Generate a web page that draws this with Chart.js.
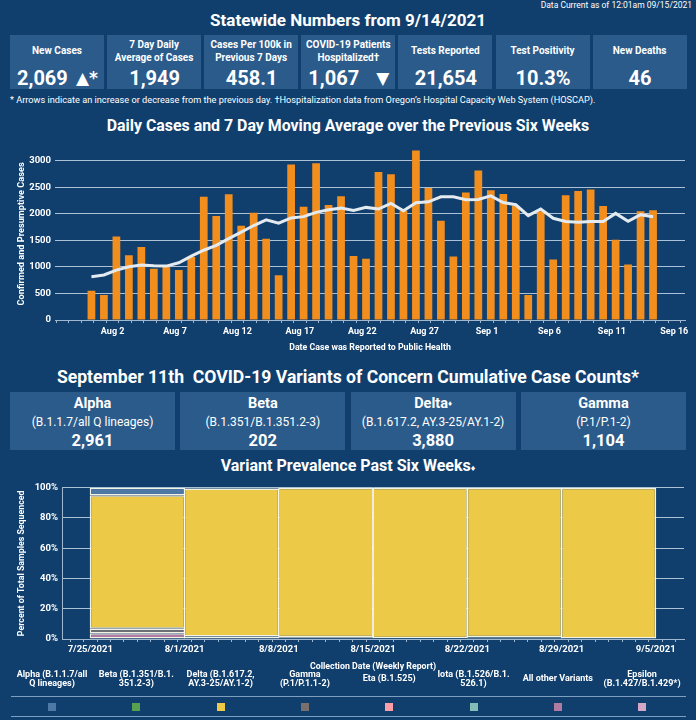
<!DOCTYPE html>
<html lang="en">
<head>
<meta charset="UTF-8">
<title>Oregon COVID-19 Statewide Numbers</title>
<script src="https://cdn.jsdelivr.net/npm/chart.js@4.4.0/dist/chart.umd.min.js"></script>
<style>
  html, body { margin: 0; padding: 0; }
  body {
    width: 696px; height: 720px; position: relative; overflow: hidden;
    background: #103f6e; color: #fff;
    font-family: Roboto, 'Liberation Sans', Arial, sans-serif;
  }
  .abs { position: absolute; white-space: nowrap; }
  .center { left: 0; width: 696px; text-align: center; font-weight: bold; }
  .stat { position: absolute; top: 35px; height: 54px; background: #2b5b8b; }
  .stat .lbl {
    position: absolute; top: 4px; left: 0; right: 0; height: 25px; white-space: nowrap;
    display: flex; align-items: center; justify-content: center; text-align: center;
    font-size: 10px; font-weight: bold; line-height: 12.5px;
  }
  .stat .val {
    position: absolute; top: 32px; left: 7px; right: 6px; height: 22px; line-height: 22px;
    font-size: 20px; font-weight: bold; display: flex; justify-content: center;
  }
  .stat .val.split { justify-content: space-between; }
  .arrow { font-family: 'DejaVu Sans', sans-serif; font-size: 17px; }
  .voc { position: absolute; top: 392px; height: 58px; background: #2b5b8b; text-align: center; }
  .voc .n { position: absolute; top: 3px; width: 100%; line-height: 18px; font-size: 14.5px; font-weight: bold; }
  .voc .s { position: absolute; top: 22px; width: 100%; line-height: 16px; font-size: 12px; }
  .voc .c { position: absolute; top: 39px; width: 100%; line-height: 20px; font-size: 16.5px; font-weight: bold; }
  .leg { position: absolute; top: 669px; width: 86px; height: 20px; display: flex; align-items: center;
         justify-content: center; text-align: center; font-size: 9px; font-weight: bold; line-height: 9.5px;
         white-space: nowrap; }
  .sq { position: absolute; top: 703px; width: 8px; height: 8px; }
  .rule { position: absolute; left: 11px; width: 675px; height: 1px; background: #7f9fc0; }
</style>
</head>
<body>
<div class="abs" style="right:4px;top:0;font-size:8.5px;line-height:10px;">Data Current as of 12:01am 09/15/2021</div>
<div class="abs center" style="top:9px;font-size:17px;line-height:22px;">Statewide Numbers from 9/14/2021</div>
<div id="stats"></div>
<div class="abs" style="left:10px;top:94px;font-size:9.2px;line-height:12px;">* Arrows indicate an increase or decrease from the previous day. †Hospitalization data from Oregon’s Hospital Capacity Web System (HOSCAP).</div>

<div class="abs center" style="top:116px;font-size:15.9px;line-height:20px;">Daily Cases and 7 Day Moving Average over the Previous Six Weeks</div>
<canvas id="casesChart" class="abs" style="left:0;top:138px;" width="696" height="218"></canvas>

<div class="abs center" style="top:367px;font-size:17.6px;line-height:20px;">September 11th&nbsp; COVID-19 Variants of Concern Cumulative Case Counts*</div>
<div id="vocBoxes"></div>
<div class="abs center" style="top:456px;font-size:16px;line-height:20px;">Variant Prevalence Past Six Weeks<span style="font-size:9px;">♦</span></div>
<canvas id="variantChart" class="abs" style="left:0;top:478px;" width="696" height="195"></canvas>
<div id="legend"></div>
<div class="rule" style="top:696px;"></div>
<div class="rule" style="top:716px;"></div>

<script>
// ---- top boxes ----
const statLabels = ['New Cases', '7 Day Daily<br>Average of Cases', 'Cases Per 100k in<br>Previous 7 Days',
  'COVID-19 Patients<br>Hospitalized†', 'Tests Reported', 'Test Positivity', 'New Deaths'];
const statValues = ['2,069', '1,949', '458.1', '1,067', '21,654', '10.3%', '46'];
const statArrows = ['▲*', '', '', '▼', '', '', ''];

// ---- variant count boxes ----
const vocNames = ['Alpha', 'Beta', 'Delta', 'Gamma'];
const vocLineages = ['(B.1.1.7/all Q lineages)', '(B.1.351/B.1.351.2-3)', '(B.1.617.2, AY.3-25/AY.1-2)', '(P.1/P.1-2)'];
const vocCounts = ['2,961', '202', '3,880', '1,104'];

// ---- daily cases ----
const caseDates = ['7/31',
  '8/1','8/2','8/3','8/4','8/5','8/6','8/7','8/8','8/9','8/10','8/11','8/12','8/13','8/14','8/15','8/16',
  '8/17','8/18','8/19','8/20','8/21','8/22','8/23','8/24','8/25','8/26','8/27','8/28','8/29','8/30','8/31',
  '9/1','9/2','9/3','9/4','9/5','9/6','9/7','9/8','9/9','9/10','9/11','9/12','9/13','9/14'];
const newCases = [550, 470, 1577, 1222, 1377, 967, 1010, 942, 1190, 2323,
  1963, 2373, 1776, 2025, 1533, 843, 2933, 2137, 2957, 2168,
  2336, 1209, 1153, 2790, 2747, 2063, 3199, 2491, 1870, 1198,
  2404, 2821, 2448, 2379, 2149, 470, 2049, 1142, 2355, 2435,
  2460, 2149, 1515, 1049, 2049, 2069];
const movingAvg = [817, 849, 942, 1004, 1036, 1023, 1017, 1079, 1204, 1316,
  1409, 1534, 1657, 1782, 1888, 1825, 1926, 1950, 2030, 2081,
  2110, 2065, 2124, 2093, 2198, 2062, 2211, 2230, 2323, 2323,
  2267, 2273, 2342, 2217, 2174, 1969, 2093, 1918, 1857, 1844,
  1857, 1857, 2011, 1862, 1987, 1949];
const caseTickLabels = ['Aug 2', 'Aug 7', 'Aug 12', 'Aug 17', 'Aug 22', 'Aug 27', 'Sep 1', 'Sep 6', 'Sep 11', 'Sep 16'];
const caseYTicks = [0, 500, 1000, 1500, 2000, 2500, 3000];

// ---- variant prevalence (percent of sequenced samples, by week) ----
const weekStarts = ['7/25/2021', '8/1/2021', '8/8/2021', '8/15/2021', '8/22/2021', '8/29/2021'];
const weekTickLabels = ['7/25/2021', '8/1/2021', '8/8/2021', '8/15/2021', '8/22/2021', '8/29/2021', '9/5/2021'];
const variantLegend = ['Alpha (B.1.1.7/all<br>Q lineages)', 'Beta (B.1.351/B.1.<br>351.2-3)', 'Delta (B.1.617.2,<br>AY.3-25/AY.1-2)',
  'Gamma<br>(P.1/P.1.1-2)', 'Eta (B.1.525)', 'Iota (B.1.526/B.1.<br>526.1)', 'All other Variants', 'Epsilon<br>(B.1.427/B.1.429*)'];
const variantColors = ['#4e79a7', '#59a14f', '#edc948', '#79706e', '#ff9da7', '#86bcb6', '#b07aa1', '#d4a6c8'];
const alphaPct   = [5.0, 0.5, 0, 0, 0, 0];
const betaPct    = [0, 0, 0, 0, 0, 0];
const deltaPct   = [88.2, 97.8, 98.8, 99.5, 98.8, 100];
const gammaPct   = [3.0, 0.3, 0.7, 0.2, 0.2, 0];
const etaPct     = [0, 0, 0, 0, 0.4, 0];
const iotaPct    = [0, 0, 0, 0, 0, 0];
const otherPct   = [3.8, 1.4, 0.5, 0.3, 0.6, 0];
const epsilonPct = [0, 0, 0, 0, 0, 0];
const variantPctYTicks = [0, 20, 40, 60, 80, 100];

const FONT = "Roboto, 'Liberation Sans', Arial, sans-serif";
const GRID = 'rgba(200,216,232,0.85)';
const AXIS = '#9fb8d0';

// build boxes
let html = '';
statLabels.forEach((l, i) => {
  const left = 10 + i * 97.1;
  const split = statArrows[i] ? ' split' : '';
  const arrow = statArrows[i] ? `<span class="arrow">${statArrows[i]}</span>` : '';
  html += `<div class="stat" style="left:${left}px;width:94px;"><div class="lbl">${l}</div>` +
          `<div class="val${split}"><span>${statValues[i]}</span>${arrow}</div></div>`;
});
document.getElementById('stats').innerHTML = html;

html = '';
vocNames.forEach((n, i) => {
  const mark = n === 'Delta' ? '<span style="font-size:8px;vertical-align:2px;">♦</span>' : '';
  html += `<div class="voc" style="left:${10 + i * 170.3}px;width:165px;"><div class="n">${n}${mark}</div>` +
          `<div class="s">${vocLineages[i]}</div><div class="c">${vocCounts[i]}</div></div>`;
});
document.getElementById('vocBoxes').innerHTML = html;

html = '';
variantLegend.forEach((l, i) => {
  const cx = 52 + i * 84.3;
  html += `<div class="leg" style="left:${cx - 43}px;">${l}</div>` +
          `<div class="sq" style="left:${cx - 4}px;background:${variantColors[i]};"></div>`;
});
document.getElementById('legend').innerHTML = html;

// date helpers: days since Aug 1 2021
const MONTHS = {Jul: 7, Aug: 8, Sep: 9};
function dayOf(m, d) { return Math.round((new Date(2021, m - 1, d) - new Date(2021, 7, 1)) / 86400000); }
function dayOfSlash(s) { const p = s.split('/'); return dayOf(+p[0], +p[1]); }

Chart.defaults.font.family = FONT;
Chart.defaults.color = '#fff';
Chart.defaults.animation = false;

// ---- chart 1 ----
const tickShift = 0.3;
const caseTickMap = {};
caseTickLabels.forEach(t => { const p = t.split(' '); caseTickMap[dayOf(MONTHS[p[0]], +p[1])] = t; });
const casePoints = caseDates.map((d, i) => ({x: dayOfSlash(d), y: newCases[i]}));
const avgPoints = caseDates.map((d, i) => ({x: dayOfSlash(d), y: movingAvg[i]}));

new Chart(document.getElementById('casesChart'), {
  type: 'bar',
  data: {
    datasets: [
      {type: 'line', data: avgPoints, borderColor: '#e4ebf0', borderWidth: 3, pointRadius: 0, tension: 0, order: 0},
      {data: casePoints, backgroundColor: '#f28e1e', barPercentage: 0.62, categoryPercentage: 1, order: 1}
    ]
  },
  options: {
    responsive: false,
    layout: {padding: {top: 7.6, right: 11, left: 0, bottom: 0}},
    plugins: {legend: {display: false}, tooltip: {enabled: false}},
    scales: {
      x: {
        type: 'linear', min: -3.92, max: 46.56, offset: false,
        afterBuildTicks: s => {
          const t = [];
          for (let d = -3; d <= 46; d++) t.push({value: d - tickShift});
          s.ticks = t;
        },
        afterFit: s => { s.height = 36; },
        grid: {drawOnChartArea: false, drawTicks: true, tickLength: 3, color: AXIS},
        border: {display: true, color: AXIS},
        ticks: {
          autoSkip: false, maxRotation: 0, padding: 3, color: '#fff',
          font: {size: 9, weight: 'bold'},
          callback: v => caseTickMap[Math.round(v + tickShift)] || ''
        },
        title: {display: true, text: 'Date Case was Reported to Public Health', color: '#fff',
                font: {size: 8.8, weight: 'bold'}, padding: {top: 0, bottom: 3}}
      },
      y: {
        min: 0, max: 3250,
        afterBuildTicks: s => { s.ticks = caseYTicks.map(v => ({value: v})); },
        afterFit: s => { s.width = 55; },
        grid: {color: GRID, drawTicks: false},
        border: {display: false},
        ticks: {padding: 4, color: '#fff', font: {size: 9.5, weight: 'bold'}, callback: v => String(v)},
        title: {display: true, text: 'Confirmed and Presumptive Cases', color: '#fff',
                font: {size: 9.2, weight: 'bold'}, padding: {top: 16}}
      }
    }
  }
});

// ---- chart 2 ----
const week0 = dayOfSlash(weekStarts[0]);
const weekCenters = weekStarts.map(w => dayOfSlash(w) - week0 + 3.5);
const weekTickMap = {};
weekTickLabels.forEach(w => { weekTickMap[dayOfSlash(w) - week0] = w; });
const stackOrder = [
  [epsilonPct, 7], [otherPct, 6], [iotaPct, 5], [etaPct, 4],
  [gammaPct, 3], [deltaPct, 2], [betaPct, 1], [alphaPct, 0]
];
// daily tick marks make chart.js measure a 1-day slot, so each weekly bar spans ~7 slots
// (a hair more, so neighbouring weeks overlap and no dark seam shows between them)
const variantSets = stackOrder.map(([vals, ci]) => ({
  data: vals.map((v, i) => ({x: weekCenters[i], y: v})),
  backgroundColor: variantColors[ci],
  borderColor: 'rgba(255,252,235,0.95)', borderWidth: 1.5, borderSkipped: false,
  barPercentage: 1, categoryPercentage: 7.08
}));

new Chart(document.getElementById('variantChart'), {
  type: 'bar',
  data: {datasets: variantSets},
  options: {
    responsive: false,
    layout: {padding: {top: 9.5, right: 12, left: 0, bottom: 0}},
    plugins: {legend: {display: false}, tooltip: {enabled: false}},
    scales: {
      x: {
        type: 'linear', stacked: true, min: -2.1, max: 44.1, offset: false,
        afterBuildTicks: s => {
          const t = [];
          for (let d = -2; d <= 44; d++) t.push({value: d});
          s.ticks = t;
        },
        afterFit: s => { s.height = 34; },
        grid: {drawOnChartArea: false, drawTicks: true, tickLength: 3, color: AXIS},
        border: {display: true, color: AXIS},
        ticks: {
          autoSkip: false, maxRotation: 0, padding: 2, color: '#fff',
          font: {size: 9.5, weight: 'bold'},
          callback: v => weekTickMap[Math.round(v)] || ''
        },
        title: {display: true, text: 'Collection Date (Weekly Report)', color: '#fff',
                font: {size: 8.8, weight: 'bold'}, padding: {top: 0, bottom: 1}}
      },
      y: {
        stacked: true, min: 0, max: 100,
        afterBuildTicks: s => { s.ticks = variantPctYTicks.map(v => ({value: v})); },
        afterFit: s => { s.width = 62; },
        grid: {color: GRID, drawTicks: false},
        border: {display: true, color: AXIS},
        ticks: {padding: 4, color: '#fff', font: {size: 9.5, weight: 'bold'}, callback: v => v + '%'},
        title: {display: true, text: 'Percent of Total Samples Sequenced', color: '#fff',
                font: {size: 8.8, weight: 'bold'}, padding: {top: 17}}
      }
    }
  }
});
</script>
</body>
</html>
